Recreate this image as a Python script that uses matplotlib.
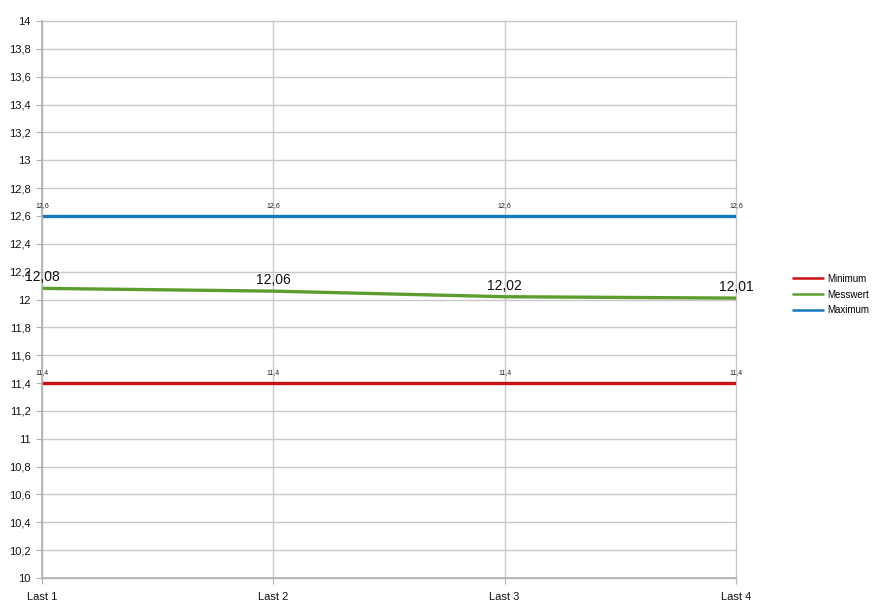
import matplotlib
matplotlib.use("Agg")
import matplotlib.pyplot as plt
from matplotlib.ticker import FuncFormatter, MultipleLocator

plt.rcParams["font.family"] = ["Liberation Sans", "DejaVu Sans"]

categories = ["Last 1", "Last 2", "Last 3", "Last 4"]
minimum = [11.4, 11.4, 11.4, 11.4]
messwert = [12.08, 12.06, 12.02, 12.01]
maximum = [12.6, 12.6, 12.6, 12.6]

def de(v):
    s = f"{v:g}"
    return s.replace(".", ",")

fig = plt.figure(figsize=(8.73, 6.07), dpi=100)
ax = fig.add_axes([42/873, 1-578/607, (736-42)/873, (578-21)/607])

x = list(range(len(categories)))
c_min = "#cc1016"
c_mes = "#5c9e2e"
c_max = "#1679c0"
ax.plot(x, minimum, color=c_min, lw=2.4, label="Minimum", solid_capstyle="butt")
ax.plot(x, messwert, color=c_mes, lw=2.4, label="Messwert", solid_capstyle="butt")
ax.plot(x, maximum, color=c_max, lw=2.4, label="Maximum", solid_capstyle="butt")

for xi, v in zip(x, minimum):
    ax.annotate(de(v), (xi, v), xytext=(0, 5), textcoords="offset points",
                ha="center", va="bottom", fontsize=5, color="#222222")
for xi, v in zip(x, maximum):
    ax.annotate(de(v), (xi, v), xytext=(0, 5), textcoords="offset points",
                ha="center", va="bottom", fontsize=5, color="#222222")
for xi, v in zip(x, messwert):
    ax.annotate(de(v), (xi, v), xytext=(0, 3), textcoords="offset points",
                ha="center", va="bottom", fontsize=10, color="#111111")

ax.set_xlim(0, len(categories) - 1)
ax.set_ylim(10, 14)
ax.yaxis.set_major_locator(MultipleLocator(0.2))
ax.yaxis.set_major_formatter(FuncFormatter(lambda v, p: de(round(v, 1))))
ax.set_xticks(x)
ax.set_xticklabels(categories)
ax.grid(True, color="#c8c8c8", lw=1)
for gl in ax.get_xgridlines() + ax.get_ygridlines():
    gl.set_clip_on(False)
ax.set_axisbelow(True)
for s in ["top", "right"]:
    ax.spines[s].set_visible(False)
for s in ["left", "bottom"]:
    ax.spines[s].set_color("#b0b0b0")
    ax.spines[s].set_linewidth(1.2)
ax.tick_params(axis="both", colors="#b0b0b0", labelcolor="#111111", labelsize=8, length=4)
ax.tick_params(axis="x", pad=6)
ax.tick_params(axis="y", pad=4)

leg = fig.legend(loc="upper left", bbox_to_anchor=(783/873, 1-265/607), frameon=False,
                 fontsize=7, handlelength=3.3, handletextpad=0.3, labelspacing=0.6)
for ln in leg.get_lines():
    ln.set_linewidth(1.8)

fig.savefig("out.png", dpi=100)
